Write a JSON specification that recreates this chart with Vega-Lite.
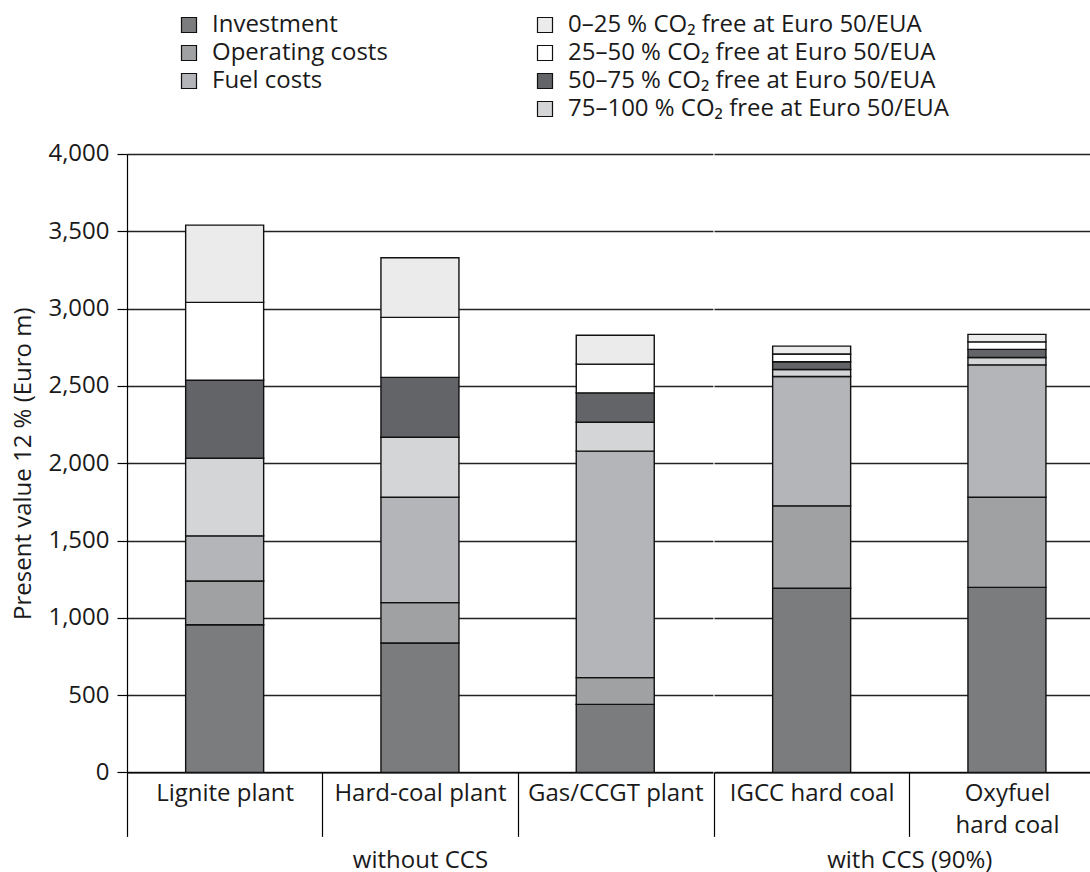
{
  "$schema": "https://vega.github.io/schema/vega-lite/v6.json",
  "padding": {"left": 11, "top": 13, "right": 0, "bottom": 0},
  "config": {
    "font": "Open Sans",
    "view": {"stroke": null},
    "axis": {
      "labelFont": "Open Sans",
      "titleFont": "Open Sans",
      "labelColor": "#1a1a1a",
      "titleColor": "#1a1a1a",
      "titleFontWeight": "normal",
      "labelFontSize": 24,
      "titleFontSize": 24,
      "domainColor": "#000000",
      "domainWidth": 1.2,
      "tickColor": "#000000",
      "tickWidth": 1.2,
      "gridColor": "#222222",
      "gridWidth": 1.4
    },
    "legend": {
      "labelFont": "Open Sans",
      "labelFontSize": 24,
      "labelColor": "#1a1a1a"
    }
  },
  "datasets": {
    "costs": [
      {"plant": "Lignite plant", "group": "without CCS", "component": "Investment", "value": 955},
      {"plant": "Lignite plant", "group": "without CCS", "component": "Operating costs", "value": 283},
      {"plant": "Lignite plant", "group": "without CCS", "component": "Fuel costs", "value": 292},
      {"plant": "Lignite plant", "group": "without CCS", "component": "75–100 % CO₂ free at Euro 50/EUA", "value": 502},
      {"plant": "Lignite plant", "group": "without CCS", "component": "50–75 % CO₂ free at Euro 50/EUA", "value": 505},
      {"plant": "Lignite plant", "group": "without CCS", "component": "25–50 % CO₂ free at Euro 50/EUA", "value": 503},
      {"plant": "Lignite plant", "group": "without CCS", "component": "0–25 % CO₂ free at Euro 50/EUA", "value": 500},
      {"plant": "Hard-coal plant", "group": "without CCS", "component": "Investment", "value": 837},
      {"plant": "Hard-coal plant", "group": "without CCS", "component": "Operating costs", "value": 261},
      {"plant": "Hard-coal plant", "group": "without CCS", "component": "Fuel costs", "value": 682},
      {"plant": "Hard-coal plant", "group": "without CCS", "component": "75–100 % CO₂ free at Euro 50/EUA", "value": 388},
      {"plant": "Hard-coal plant", "group": "without CCS", "component": "50–75 % CO₂ free at Euro 50/EUA", "value": 387},
      {"plant": "Hard-coal plant", "group": "without CCS", "component": "25–50 % CO₂ free at Euro 50/EUA", "value": 388},
      {"plant": "Hard-coal plant", "group": "without CCS", "component": "0–25 % CO₂ free at Euro 50/EUA", "value": 386},
      {"plant": "Gas/CCGT plant", "group": "without CCS", "component": "Investment", "value": 440},
      {"plant": "Gas/CCGT plant", "group": "without CCS", "component": "Operating costs", "value": 173},
      {"plant": "Gas/CCGT plant", "group": "without CCS", "component": "Fuel costs", "value": 1465},
      {"plant": "Gas/CCGT plant", "group": "without CCS", "component": "75–100 % CO₂ free at Euro 50/EUA", "value": 187},
      {"plant": "Gas/CCGT plant", "group": "without CCS", "component": "50–75 % CO₂ free at Euro 50/EUA", "value": 190},
      {"plant": "Gas/CCGT plant", "group": "without CCS", "component": "25–50 % CO₂ free at Euro 50/EUA", "value": 186},
      {"plant": "Gas/CCGT plant", "group": "without CCS", "component": "0–25 % CO₂ free at Euro 50/EUA", "value": 187},
      {"plant": "IGCC hard coal", "group": "with CCS (90%)", "component": "Investment", "value": 1191},
      {"plant": "IGCC hard coal", "group": "with CCS (90%)", "component": "Operating costs", "value": 533},
      {"plant": "IGCC hard coal", "group": "with CCS (90%)", "component": "Fuel costs", "value": 837},
      {"plant": "IGCC hard coal", "group": "with CCS (90%)", "component": "75–100 % CO₂ free at Euro 50/EUA", "value": 45},
      {"plant": "IGCC hard coal", "group": "with CCS (90%)", "component": "50–75 % CO₂ free at Euro 50/EUA", "value": 50},
      {"plant": "IGCC hard coal", "group": "with CCS (90%)", "component": "25–50 % CO₂ free at Euro 50/EUA", "value": 50},
      {"plant": "IGCC hard coal", "group": "with CCS (90%)", "component": "0–25 % CO₂ free at Euro 50/EUA", "value": 51},
      {"plant": "Oxyfuel hard coal", "group": "with CCS (90%)", "component": "Investment", "value": 1197},
      {"plant": "Oxyfuel hard coal", "group": "with CCS (90%)", "component": "Operating costs", "value": 583},
      {"plant": "Oxyfuel hard coal", "group": "with CCS (90%)", "component": "Fuel costs", "value": 856},
      {"plant": "Oxyfuel hard coal", "group": "with CCS (90%)", "component": "75–100 % CO₂ free at Euro 50/EUA", "value": 48},
      {"plant": "Oxyfuel hard coal", "group": "with CCS (90%)", "component": "50–75 % CO₂ free at Euro 50/EUA", "value": 52},
      {"plant": "Oxyfuel hard coal", "group": "with CCS (90%)", "component": "25–50 % CO₂ free at Euro 50/EUA", "value": 49},
      {"plant": "Oxyfuel hard coal", "group": "with CCS (90%)", "component": "0–25 % CO₂ free at Euro 50/EUA", "value": 48}
    ]
  },
  "spacing": 0,
  "resolve": {"scale": {"color": "shared", "y": "shared"}},
  "hconcat": [
    {
      "width": 585.9,
      "height": 618.4,
      "data": {"name": "costs"},
      "transform": [
        {"filter": "datum.group === 'without CCS'"},
        {"calculate": "indexof(['Investment', 'Operating costs', 'Fuel costs', '75–100 % CO₂ free at Euro 50/EUA', '50–75 % CO₂ free at Euro 50/EUA', '25–50 % CO₂ free at Euro 50/EUA', '0–25 % CO₂ free at Euro 50/EUA'], datum.component)", "as": "stackOrder"}
      ],
      "mark": {"type": "bar", "size": 78, "stroke": "#111111", "strokeWidth": 1.4},
      "encoding": {
        "x": {
          "field": "plant",
          "type": "nominal",
          "sort": ["Lignite plant", "Hard-coal plant", "Gas/CCGT plant"],
          "scale": {"paddingInner": 0, "paddingOuter": 0},
          "axis": {
            "title": "without CCS",
            "titleY": 95,
            "titleBaseline": "alphabetic",
            "labelAngle": 0,
            "labelPadding": -55,
            "labelLineHeight": 32,
            "labelOverlap": false,
            "tickOffset": -97.65,
            "labelOffset": 97.65,
            "tickSize": 64,
            "grid": false,
            "encode": {
              "ticks": {"update": {"y2": {"signal": "datum.value === 'Lignite plant' ? 100 : 64"}}}
            }
          }
        },
        "y": {
          "field": "value",
          "type": "quantitative",
          "aggregate": "sum",
          "stack": "zero",
          "scale": {"domain": [0, 4000], "nice": false},
          "axis": {
            "title": "Present value 12 % (Euro m)",
            "values": [0, 500, 1000, 1500, 2000, 2500, 3000, 3500, 4000],
            "format": ",d",
            "tickSize": 10,
            "labelPadding": 8,
            "titlePadding": 12,
            "grid": true,
            "encode": {
              "grid": {"update": {"strokeWidth": {"signal": "datum.value === 4000 ? 2.6 : 1.4"}}}
            }
          }
        },
        "order": {"field": "stackOrder", "type": "quantitative"},
        "color": {
          "field": "component",
          "type": "nominal",
          "scale": {
            "domain": ["Investment", "Operating costs", "Fuel costs", " ", "0–25 % CO₂ free at Euro 50/EUA", "25–50 % CO₂ free at Euro 50/EUA", "50–75 % CO₂ free at Euro 50/EUA", "75–100 % CO₂ free at Euro 50/EUA"],
            "range": ["#7b7c7e", "#a0a1a3", "#b4b5b8", "#ffffff", "#eaebea", "#ffffff", "#636467", "#d4d5d7"]
          },
          "legend": {
            "title": null,
            "orient": "none",
            "legendX": 50,
            "legendY": -141,
            "columns": 2,
            "columnPadding": 145,
            "rowPadding": 4,
            "symbolType": "square",
            "symbolSize": 225,
            "symbolStrokeColor": "#111111",
            "symbolStrokeWidth": 1.2,
            "symbolOpacity": 1,
            "labelOffset": 11,
            "labelLimit": 600,
            "labelExpr": "datum.value === '0–25 % CO₂ free at Euro 50/EUA' ? '\u00a0\u00a0\u00a0' + datum.label : datum.label",
            "encode": {
              "symbols": {"update": {"strokeOpacity": {"signal": "datum.value === ' ' ? 0 : 1"}}}
            }
          }
        }
      }
    },
    {
      "width": 390.6,
      "height": 618.4,
      "data": {"name": "costs"},
      "transform": [
        {"filter": "datum.group === 'with CCS (90%)'"},
        {"calculate": "indexof(['Investment', 'Operating costs', 'Fuel costs', '75–100 % CO₂ free at Euro 50/EUA', '50–75 % CO₂ free at Euro 50/EUA', '25–50 % CO₂ free at Euro 50/EUA', '0–25 % CO₂ free at Euro 50/EUA'], datum.component)", "as": "stackOrder"}
      ],
      "mark": {"type": "bar", "size": 78, "stroke": "#111111", "strokeWidth": 1.4},
      "encoding": {
        "x": {
          "field": "plant",
          "type": "nominal",
          "sort": ["IGCC hard coal", "Oxyfuel hard coal"],
          "scale": {"paddingInner": 0, "paddingOuter": 0},
          "axis": {
            "title": "with CCS (90%)",
            "titleY": 95,
            "titleBaseline": "alphabetic",
            "labelAngle": 0,
            "labelPadding": -55,
            "labelLineHeight": 32,
            "labelOverlap": false,
            "labelExpr": "datum.value === 'Oxyfuel hard coal' ? ['Oxyfuel', 'hard coal'] : datum.value",
            "tickOffset": -97.65,
            "labelOffset": 97.65,
            "tickSize": 64,
            "grid": false,
            "encode": {
              "ticks": {"update": {"y2": {"signal": "datum.value === 'IGCC hard coal' ? 100 : 64"}}}
            }
          }
        },
        "y": {
          "field": "value",
          "type": "quantitative",
          "aggregate": "sum",
          "stack": "zero",
          "scale": {"domain": [0, 4000], "nice": false},
          "axis": {
            "title": null,
            "values": [0, 500, 1000, 1500, 2000, 2500, 3000, 3500, 4000],
            "labels": false,
            "ticks": false,
            "domain": false,
            "grid": true,
            "encode": {
              "grid": {"update": {"strokeWidth": {"signal": "datum.value === 4000 ? 2.6 : 1.4"}}}
            }
          }
        },
        "order": {"field": "stackOrder", "type": "quantitative"},
        "color": {"field": "component", "type": "nominal"}
      }
    }
  ]
}
